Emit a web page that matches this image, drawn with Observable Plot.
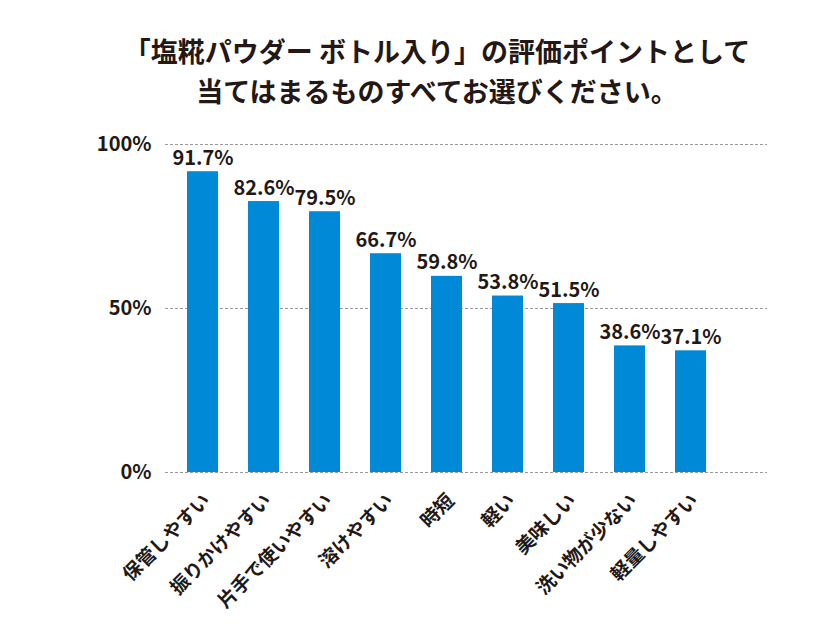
<!DOCTYPE html>
<html><head><meta charset="utf-8">
<script src="https://cdn.jsdelivr.net/npm/d3@7"></script>
<script src="https://cdn.jsdelivr.net/npm/@observablehq/plot@0.6"></script>
<style>
body{margin:0;background:#fff;font-family:"Noto Sans CJK JP",sans-serif;color:#231815}
#title{width:840px;height:115px;box-sizing:border-box;padding-top:31px;padding-left:34px;text-align:center;font-size:27px;font-weight:700;line-height:40px;white-space:nowrap}
</style></head><body>
<div id="title">「塩糀パウダー ボトル入り」の評価ポイントとして<br>当てはまるものすべてお選びください。</div>
<div id="chart"></div>
<script>
const categories = ["保管しやすい","振りかけやすい","片手で使いやすい","溶けやすい","時短","軽い","美味しい","洗い物が少ない","軽量しやすい"];
const values = [91.7,82.6,79.5,66.7,59.8,53.8,51.5,38.6,37.1];
const yTicks = [0,50,100];

const data = categories.map((c,i)=>({c, v: values[i]}));
const ink = "#231815";

const svg = Plot.plot({
  width: 840, height: 525,
  marginTop: 29, marginBottom: 168, marginLeft: 165, marginRight: 73,
  style: {fontFamily: '"Noto Sans CJK JP", sans-serif', color: ink, background: "#fff"},
  x: {domain: categories, range: [169.25, 722.75], paddingInner: 0.5, paddingOuter: 0.25, axis: null},
  y: {domain: [0, 100], axis: null},
  marks: [
    Plot.ruleY(yTicks, {stroke: "#9a9a9a", strokeDasharray: "3,2"}),
    Plot.barY(data, {x: "c", y: "v", fill: "#0089d6"}),
    Plot.text(data, {x: "c", y: "v", text: d => d.v.toFixed(1) + "%", dy: -7, lineAnchor: "bottom", fontSize: 20, fontWeight: 700, fill: ink, ariaLabel: "vlabel"}),
    Plot.text(yTicks, {y: d => d, text: d => d + "%", frameAnchor: "left", textAnchor: "end", dx: -14, fontSize: 20, fontWeight: 700, fill: ink, ariaLabel: "ytick"}),
    Plot.text(data, {x: "c", text: "c", frameAnchor: "bottom", dx: 4, dy: 25, rotate: -45, textAnchor: "end", lineAnchor: "middle", fontSize: 19, fontWeight: 700, fill: ink})
  ]
});

d3.select(svg).selectAll('g[aria-label="vlabel"] text, g[aria-label="ytick"] text').each(function() {
  const isTick = this.parentNode.getAttribute("aria-label") === "ytick";
  const s = this.textContent;
  if (!s.endsWith("%")) return;
  const sel = d3.select(this);
  sel.text(null);
  sel.append("tspan").text(s.slice(0, -1));
  sel.append("tspan").attr("font-size", isTick ? "0.72em" : "0.78em").attr("font-weight", isTick ? 400 : 500).attr("dx", isTick ? 2 : 0).text("%");
});

document.getElementById("chart").appendChild(svg);
</script>
</body></html>
